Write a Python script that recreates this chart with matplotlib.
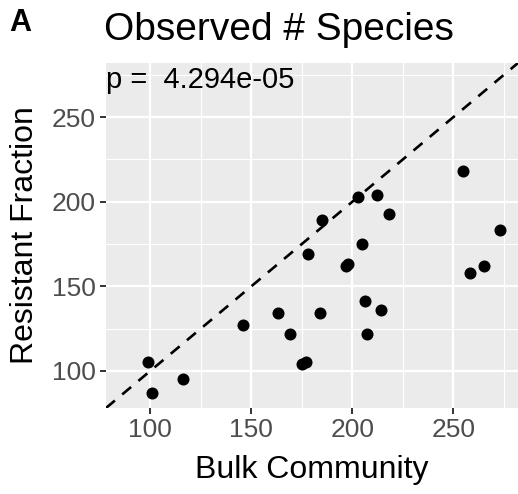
import matplotlib
matplotlib.use("Agg")
import matplotlib.pyplot as plt
from matplotlib.ticker import MultipleLocator

plt.rcParams['font.family'] = ['Liberation Sans', 'DejaVu Sans']

# observed species counts per sample
bulk = [99, 101, 116, 146, 163, 169, 175, 177, 178, 184, 185, 197, 198,
        203, 205, 206, 207, 212, 214, 218, 255, 258, 265, 273]
resistant = [105, 87, 95, 127, 134, 122, 104, 105, 169, 134, 189, 162, 163,
             203, 175, 141, 122, 204, 136, 193, 218, 158, 162, 183]
p_value = "4.294e-05"

lims = (78, 282)

fig = plt.figure(figsize=(5.18, 4.94), dpi=100)
ax = fig.add_axes([106 / 518, 1 - 408 / 494, 1 - 106 / 518, 345 / 494])
ax.set_facecolor('#EBEBEB')
for s in ax.spines.values():
    s.set_visible(False)

ax.set_xlim(lims)
ax.set_ylim(lims)
ax.xaxis.set_major_locator(MultipleLocator(50))
ax.yaxis.set_major_locator(MultipleLocator(50))
ax.xaxis.set_minor_locator(MultipleLocator(25))
ax.yaxis.set_minor_locator(MultipleLocator(25))
ax.grid(which='major', color='white', lw=1.6)
ax.grid(which='minor', color='white', lw=0.8)
ax.set_axisbelow(True)
ax.tick_params(which='major', length=4.5, width=1.4, color='#333333',
               labelsize=19, labelcolor='#4D4D4D', pad=3)
ax.tick_params(which='minor', length=0)

ax.plot(lims, lims, ls=(0, (4.4, 3.6)), color='black', lw=1.9, zorder=2)
ax.scatter(bulk, resistant, s=75, color='black', linewidths=0, zorder=3)

ax.text(0.0, 0.951, "p =  " + p_value, transform=ax.transAxes,
        ha='left', va='center', fontsize=21)

ax.set_xlabel("Bulk Community", fontsize=23, labelpad=9)
ax.set_ylabel("Resistant Fraction", fontsize=23, labelpad=8)

fig.text(104 / 518, 1 - 30 / 494, "Observed # Species", fontsize=28,
         ha='left', va='center')
fig.text(9 / 518, 1 - 23 / 494, "A", fontsize=22, fontweight='bold',
         ha='left', va='center')

fig.savefig("out.png", dpi=100)
